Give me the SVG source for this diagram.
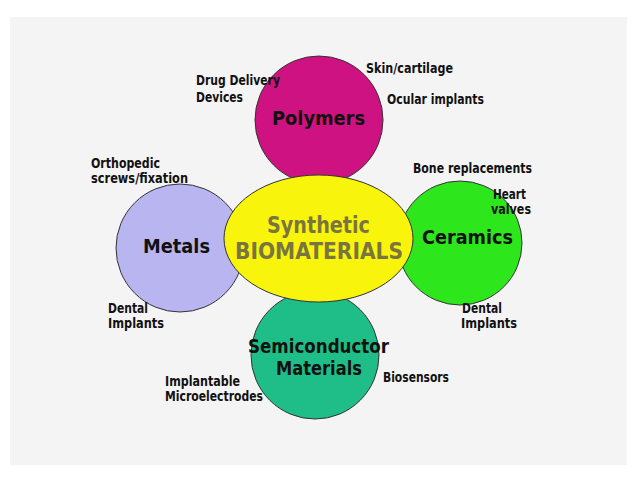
<svg xmlns="http://www.w3.org/2000/svg" width="638" height="478" viewBox="0 0 638 478">
<style>
text{font-family:"DejaVu Sans","Liberation Sans",sans-serif;font-weight:bold;fill:#111}
.s{font-size:13.5px}
.b{font-size:20px}
.c{font-size:23px;fill:#7a7540}
.n{stroke:#333;stroke-width:1}
</style>
<rect x="0" y="0" width="638" height="478" fill="#ffffff"/>
<rect x="10" y="17" width="617" height="448" fill="#f5f4f4"/>
<g id="connectors"></g>
<g id="polymers"><circle class="n" cx="319" cy="120" r="64" fill="#cf1282"/></g>
<g id="metals"><circle class="n" cx="180" cy="248" r="64" fill="#b9b5f0"/></g>
<g id="ceramics"><circle class="n" cx="460" cy="243" r="62" fill="#2de61c"/></g>
<g id="semiconductor"><circle class="n" cx="315" cy="355" r="64" fill="#1fbe88"/></g>
<g id="center"><ellipse class="n" cx="318.5" cy="238.5" rx="94.5" ry="63.5" fill="#f9f40b"/>
<text class="c" x="267" y="233" textLength="103" lengthAdjust="spacingAndGlyphs">Synthetic</text>
<text class="c" x="235" y="259" textLength="168" lengthAdjust="spacingAndGlyphs">BIOMATERIALS</text></g>
<g id="labels">
<text class="b" x="272" y="125" textLength="93" lengthAdjust="spacingAndGlyphs">Polymers</text>
<text class="b" x="143" y="253" textLength="67" lengthAdjust="spacingAndGlyphs">Metals</text>
<text class="b" x="422" y="244" textLength="91" lengthAdjust="spacingAndGlyphs">Ceramics</text>
<text class="b" x="248" y="353" textLength="141" lengthAdjust="spacingAndGlyphs">Semiconductor</text>
<text class="b" x="276" y="375" textLength="86" lengthAdjust="spacingAndGlyphs">Materials</text>
<text class="s" x="366" y="73" textLength="87" lengthAdjust="spacingAndGlyphs">Skin/cartilage</text>
<text class="s" x="387" y="104" textLength="97" lengthAdjust="spacingAndGlyphs">Ocular implants</text>
<text class="s" x="196" y="85" textLength="84" lengthAdjust="spacingAndGlyphs">Drug Delivery</text>
<text class="s" x="196" y="102" textLength="47" lengthAdjust="spacingAndGlyphs">Devices</text>
<text class="s" x="413" y="173" textLength="119" lengthAdjust="spacingAndGlyphs">Bone replacements</text>
<text class="s" x="493" y="199" textLength="33" lengthAdjust="spacingAndGlyphs">Heart</text>
<text class="s" x="491" y="214" textLength="40" lengthAdjust="spacingAndGlyphs">valves</text>
<text class="s" x="91" y="168" textLength="69" lengthAdjust="spacingAndGlyphs">Orthopedic</text>
<text class="s" x="91" y="183" textLength="97" lengthAdjust="spacingAndGlyphs">screws/fixation</text>
<text class="s" x="108" y="313" textLength="40" lengthAdjust="spacingAndGlyphs">Dental</text>
<text class="s" x="108" y="328" textLength="56" lengthAdjust="spacingAndGlyphs">Implants</text>
<text class="s" x="462" y="313" textLength="40" lengthAdjust="spacingAndGlyphs">Dental</text>
<text class="s" x="461" y="328" textLength="56" lengthAdjust="spacingAndGlyphs">Implants</text>
<text class="s" x="383" y="382" textLength="66" lengthAdjust="spacingAndGlyphs">Biosensors</text>
<text class="s" x="165" y="386" textLength="75" lengthAdjust="spacingAndGlyphs">Implantable</text>
<text class="s" x="165" y="401" textLength="98" lengthAdjust="spacingAndGlyphs">Microelectrodes</text>
</g>
</svg>
